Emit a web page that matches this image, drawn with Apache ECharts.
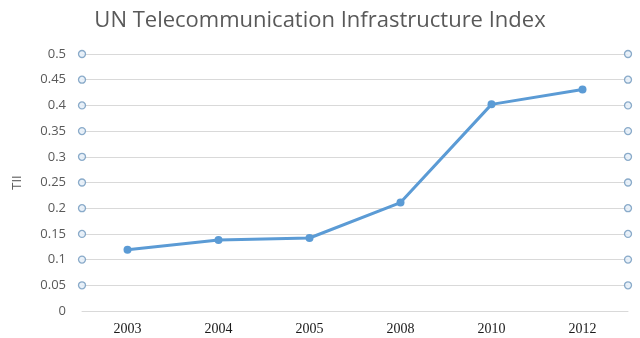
<!DOCTYPE html>
<html><head><meta charset="utf-8">
<script src="https://cdn.jsdelivr.net/npm/echarts@6/dist/echarts.min.js"></script>
<style>html,body{margin:0;padding:0;background:#fff}#c{width:640px;height:338px}</style>
</head><body><div id="c"></div>
<script>
const years = ['2003','2004','2005','2008','2010','2012'];
const tii = [0.119, 0.138, 0.142, 0.211, 0.402, 0.431];
const yTicks = [0.05,0.1,0.15,0.2,0.25,0.3,0.35,0.4,0.45,0.5];

const edgeMarks = [];
yTicks.forEach(v => { edgeMarks.push([0, v]); edgeMarks.push([1, v]); });

const chart = echarts.init(document.getElementById('c'), null, {renderer:'canvas'});
chart.setOption({
  animation:false,
  title:{text:'UN Telecommunication Infrastructure Index', left:'center', top:5,
    textStyle:{fontFamily:'Open Sans', fontWeight:'normal', fontSize:22, color:'#595959'}},
  grid:{left:82, right:12, top:54, bottom:27},
  xAxis:[{type:'category', data:years, boundaryGap:true,
    axisLine:{show:true, lineStyle:{color:'#d9d9d9', width:1}}, axisTick:{show:false},
    axisLabel:{margin:11, fontFamily:'Liberation Serif', fontSize:14, color:'#1a1a1a'}},
    {type:'value', min:0, max:1, show:false}],
  yAxis:{type:'value', min:0, max:0.5, interval:0.05, name:'TII', nameLocation:'middle', nameGap:58,
    nameTextStyle:{fontFamily:'Open Sans', fontSize:13, color:'#595959'},
    axisLine:{show:false}, axisTick:{show:false},
    axisLabel:{margin:16, fontFamily:'Open Sans', fontSize:13, color:'#595959',
      formatter:v=>String(+v.toFixed(2))},
    splitLine:{lineStyle:{color:'#d9d9d9', width:1}}},
  series:[
    {type:'scatter', xAxisIndex:1, data:edgeMarks, symbol:'circle', symbolSize:7,
      itemStyle:{color:'#e4eef7', borderColor:'#6f97bd', borderWidth:1.3}, z:3},
    {type:'line', data:tii, symbol:'circle', symbolSize:8,
      lineStyle:{color:'#5b9bd5', width:3}, itemStyle:{color:'#5b9bd5'}, z:5}
  ]
});
</script></body></html>
